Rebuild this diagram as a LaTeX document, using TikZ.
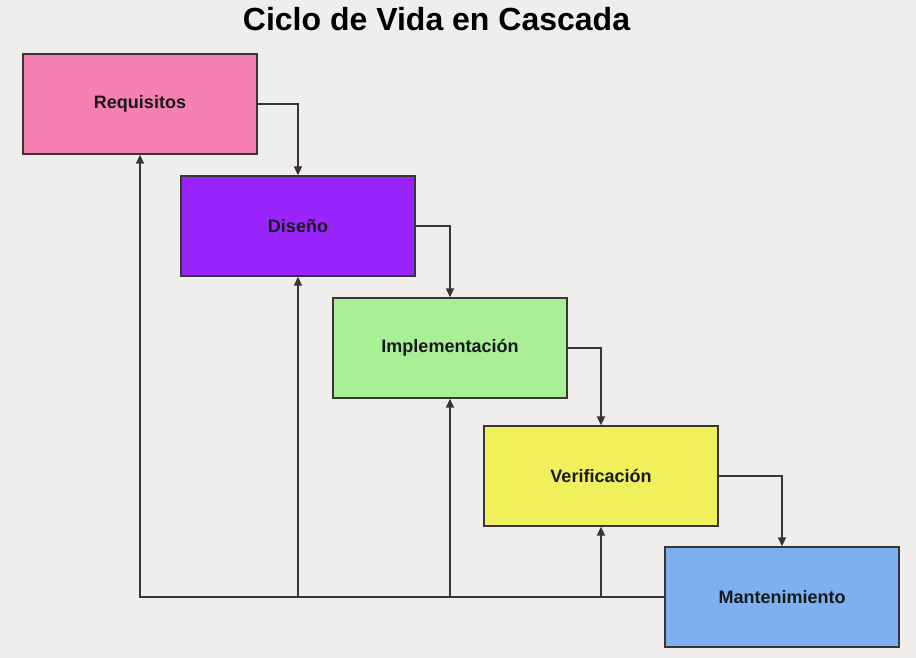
\documentclass[tikz,border=0pt]{standalone}
\usepackage{fontspec}
\setmainfont{Liberation Sans}
\usetikzlibrary{arrows.meta}
\definecolor{bg}{HTML}{F0EEEC}
\definecolor{cpink}{HTML}{F780B2}
\definecolor{cpurple}{HTML}{9A24FE}
\definecolor{cgreen}{HTML}{A8EF95}
\definecolor{cyellow}{HTML}{EFF05C}
\definecolor{cblue}{HTML}{7DB0EF}
\definecolor{cline}{HTML}{3A3535}
\begin{document}
\begin{tikzpicture}[x=1pt,y=-1pt,
  phase/.style={draw=cline, line width=1.4pt, minimum width=234pt, minimum height=100pt, inner sep=0pt,
    font=\fontsize{18}{22}\selectfont\bfseries, text=black!90},
  conn/.style={draw=cline, line width=1.8pt},
  arr/.style={conn, -{Triangle[width=8pt,length=9pt]}}]
\fill[bg] (0,0) rectangle (916,658);
\useasboundingbox (0,0) rectangle (916,658);
\node[font=\fontsize{32}{38}\selectfont\bfseries, anchor=base] (title) at (436.5,31) {Ciclo de Vida en Cascada};
\node[phase, fill=cpink] (req) at (140,104) {Requisitos};
\node[phase, fill=cpurple] (dis) at (298,226) {Diseño};
\node[phase, fill=cgreen] (imp) at (450,348) {Implementación};
\node[phase, fill=cyellow] (ver) at (601,476) {Verificación};
\node[phase, fill=cblue] (man) at (782,597) {Mantenimiento};
% forward flow
\draw[arr] (req.east) -| (dis.north);
\draw[arr] (dis.east) -| (imp.north);
\draw[arr] (imp.east) -| (ver.north);
\draw[arr] (ver.east) -| (man.north);
% feedback
\draw[arr] (man.west) -| (req.south);
\draw[arr] (dis.south |- man.west) -- (dis.south);
\draw[arr] (imp.south |- man.west) -- (imp.south);
\draw[arr] (ver.south |- man.west) -- (ver.south);
\end{tikzpicture}
\end{document}
